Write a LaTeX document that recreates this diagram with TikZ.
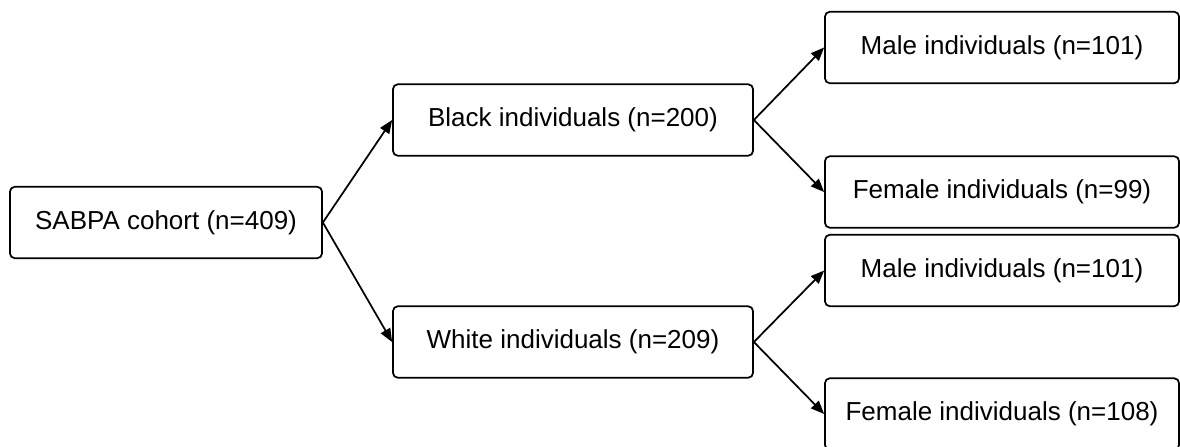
\documentclass[tikz,border=0pt]{standalone}
\usepackage{fontspec}
\setmainfont{Liberation Sans}
\usetikzlibrary{arrows.meta}
\tikzset{
  box/.style={draw, line width=1.3pt, rounded corners=3.5pt, inner sep=0pt,
    minimum height=53.5pt, font=\fontsize{19.5}{23}\selectfont},
  mid/.style={box, minimum width=270pt},
  leaf/.style={box, minimum width=265.5pt}
}
\begin{document}
\begin{tikzpicture}[>={Triangle[length=10pt,width=8pt]}, x=.75pt, y=-.75pt, line width=1.3pt]
 \useasboundingbox (0,0) rectangle (1180,446);
 \node[box, minimum width=234pt] (cohort) at (166,222.5) {SABPA cohort (n=409)};
 \node[mid] (black) at (573,120) {Black individuals (n=200)};
 \node[mid] (white) at (573,342) {White individuals (n=209)};
 \node[leaf] (bmale) at (1002,47.5) {Male individuals (n=101)};
 \node[leaf] (bfemale) at (1002,192) {Female individuals (n=99)};
 \node[leaf] (wmale) at (1002,270.5) {Male individuals (n=101)};
 \node[leaf] (wfemale) at (1002,414) {Female individuals (n=108)};
 \draw[->](cohort.east)--(black.west);
 \draw[->](cohort.east)--(white.west);
 \draw[->](black.east)--(bmale.west);
 \draw[->](black.east)--(bfemale.west);
 \draw[->](white.east)--(wmale.west);
 \draw[->](white.east)--(wfemale.west);
\end{tikzpicture}
\end{document}
